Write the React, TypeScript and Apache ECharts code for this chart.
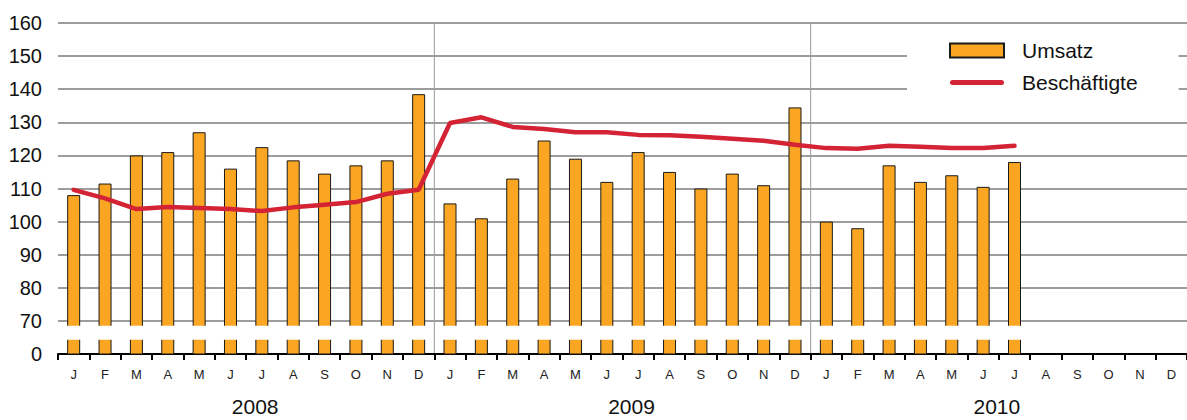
import React, { useEffect, useRef } from "react";
import * as echarts from "echarts";

const MONTHS = ["J", "F", "M", "A", "M", "J", "J", "A", "S", "O", "N", "D"];
const CATEGORIES = [...MONTHS, ...MONTHS, ...MONTHS];
const YEARS = ["2008", "2009", "2010"];

// Umsatz (bars)
const UMSATZ_2008 = [108, 111.5, 120, 121, 127, 116, 122.5, 118.5, 114.5, 117, 118.5, 138.5];
const UMSATZ_2009 = [105.5, 101, 113, 124.5, 119, 112, 121, 115, 110, 114.5, 111, 134.5];
const UMSATZ_2010 = [100, 98, 117, 112, 114, 110.5, 118, null, null, null, null, null];

// Beschäftigte (line)
const BESCH_2008 = [109.6, 107, 103.8, 104.4, 104.1, 103.8, 103.2, 104.3, 105.1, 105.9, 108.4, 109.6];
const BESCH_2009 = [129.8, 131.5, 128.6, 128, 127, 127, 126.2, 126.1, 125.6, 125, 124.4, 123.2];
const BESCH_2010 = [122.2, 122, 122.9, 122.6, 122.2, 122.2, 122.9, null, null, null, null, null];

const Y_TICK_VALUES = ["0", "70", "80", "90", "100", "110", "120", "130", "140", "150", "160"];

// axis break (the "0" tick stands where 60 would be)
const AXIS_MIN = 60;
const AXIS_MAX = 160;
const BREAK_LOW = 64.3;
const BREAK_HIGH = 68.5;
const YEAR_BOUNDARIES = [12, 24];
const YEAR_LABEL_SHIFT = [9, 9, -2];

const FONT = "'Liberation Sans', Arial, sans-serif";
const RED = "#D42335";
const LINE_ICON = "path://M2.5,0 L51.5,0 A2.5,2.5 0 0 1 51.5,5 L2.5,5 A2.5,2.5 0 0 1 2.5,0 Z";

export default function App() {
  const ref = useRef<HTMLDivElement>(null);

  useEffect(() => {
    if (!ref.current) return;
    const chart = echarts.init(ref.current, null, { renderer: "svg" });

    const umsatz = [...UMSATZ_2008, ...UMSATZ_2009, ...UMSATZ_2010];
    const besch = [...BESCH_2008, ...BESCH_2009, ...BESCH_2010];

    const option: any = {
      animation: false,
      textStyle: { fontFamily: FONT },
      grid: { left: 58, right: 0, top: 23, bottom: 66 },
      legend: {
        orient: "vertical",
        left: 907,
        top: 28,
        padding: [12, 41, 8, 42],
        backgroundColor: "#ffffff",
        itemWidth: 54,
        itemHeight: 14,
        itemGap: 11,
        symbolKeepAspect: true,
        data: [
          { name: "Umsatz", icon: "rect" },
          { name: "Beschäftigte", icon: LINE_ICON, itemStyle: { color: RED } },
        ],
        textStyle: {
          fontFamily: FONT,
          fontSize: 21,
          lineHeight: 21,
          color: "#111",
          padding: [0, 0, 0, 13],
        },
      },
      xAxis: [
        {
          type: "category",
          data: CATEGORIES,
          boundaryGap: true,
          axisLine: { lineStyle: { color: "#000", width: 2 } },
          axisTick: { show: true, length: 6, lineStyle: { color: "#000", width: 2 } },
          axisLabel: { interval: 0, fontSize: 13, color: "#222", margin: 14, fontFamily: FONT },
          splitLine: { show: false },
        },
        {
          type: "category",
          position: "bottom",
          data: YEARS.map((y, i) => ({
            value: y,
            textStyle: {
              padding: YEAR_LABEL_SHIFT[i] >= 0 ? [0, 0, 0, 2 * YEAR_LABEL_SHIFT[i]] : [0, -2 * YEAR_LABEL_SHIFT[i], 0, 0],
            },
          })),
          axisLine: { show: false },
          axisTick: { show: false },
          splitLine: { show: false },
          axisLabel: { fontSize: 21, color: "#111", margin: 42, fontFamily: FONT },
        },
      ],
      yAxis: {
        type: "value",
        min: AXIS_MIN,
        max: AXIS_MAX,
        interval: 10,
        axisLine: { show: false },
        axisTick: { show: false },
        axisLabel: {
          fontSize: 20,
          color: "#111",
          margin: 16,
          fontFamily: FONT,
          formatter: (v: number) => Y_TICK_VALUES[Math.round((v - AXIS_MIN) / 10)],
        },
        splitLine: { lineStyle: { color: "#9d9d9d", width: 2 } },
      },
      series: [
        {
          name: "Umsatz",
          type: "bar",
          data: umsatz,
          barWidth: 13,
          z: 2,
          itemStyle: { color: "#FBA622", borderColor: "#1a1a1a", borderWidth: 1 },
        },
        {
          name: "break",
          type: "custom",
          silent: true,
          z: 3,
          data: [[0, 100]],
          encode: { x: 0, y: 1 },
          renderItem: (params: any, api: any) => {
            const cs = params.coordSys;
            const yTop = api.coord([0, BREAK_HIGH])[1];
            const yBot = api.coord([0, BREAK_LOW])[1];
            const seps = YEAR_BOUNDARIES.map((i) => {
              const x = (api.coord([i - 1, 100])[0] + api.coord([i, 100])[0]) / 2;
              return {
                type: "line",
                shape: { x1: x, y1: cs.y, x2: x, y2: cs.y + cs.height - 1 },
                style: { stroke: "#9a9a9a", lineWidth: 1 },
              };
            });
            return {
              type: "group",
              children: [
                {
                  type: "rect",
                  shape: { x: cs.x, y: yTop, width: cs.width, height: yBot - yTop },
                  style: { fill: "#ffffff" },
                },
                ...seps,
              ],
            };
          },
        },
        {
          name: "Beschäftigte",
          type: "line",
          data: besch,
          symbol: "none",
          z: 4,
          lineStyle: { color: RED, width: 4.5, cap: "round" },
          itemStyle: { color: RED },
        },
      ],
    };

    chart.setOption(option);
    return () => chart.dispose();
  }, []);

  return (
    <div
      ref={ref}
      style={{ position: "fixed", left: 0, top: 0, width: 1187, height: 420, background: "#fff" }}
    />
  );
}
